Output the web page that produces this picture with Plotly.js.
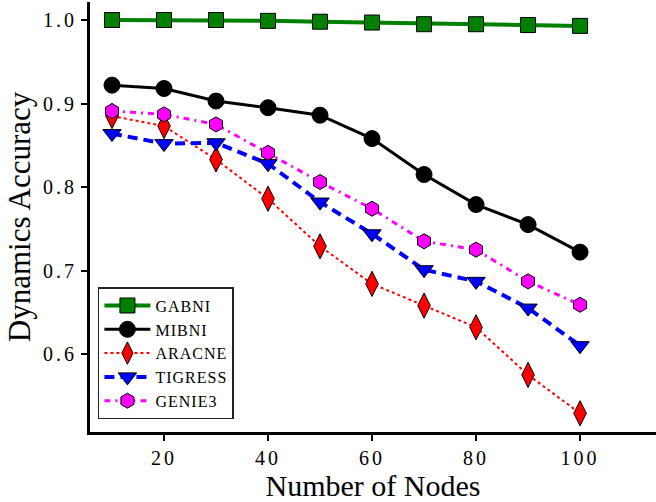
<!DOCTYPE html>
<html>
<head>
<meta charset="utf-8">
<script src="https://cdn.plot.ly/plotly-3.0.1.min.js"></script>
<style>
  html, body { margin: 0; padding: 0; background: #fff; }
  #chart { width: 656px; height: 502px; }
  .xtick text, .ytick text { letter-spacing: 3px; font-family: 'Liberation Serif', serif !important; }
  .legendtext { font-family: 'Liberation Serif', serif !important; letter-spacing: 1px; }
</style>
</head>
<body>
<div id="chart"></div>
<script>
// Network size (number of nodes) on the x axis
const nodes = [10, 20, 30, 40, 50, 60, 70, 80, 90, 100];

// Dynamics accuracy of each inference method
const gabni   = [1.000, 1.000, 1.000, 0.999, 0.998, 0.997, 0.995, 0.995, 0.994, 0.993];
const mibni   = [0.922, 0.918, 0.903, 0.895, 0.886, 0.858, 0.815, 0.779, 0.755, 0.722];
const aracne  = [0.885, 0.873, 0.833, 0.786, 0.729, 0.684, 0.658, 0.632, 0.575, 0.529];
const tigress = [0.864, 0.852, 0.853, 0.828, 0.782, 0.744, 0.701, 0.687, 0.655, 0.610];
const genie3  = [0.891, 0.887, 0.875, 0.841, 0.806, 0.774, 0.735, 0.725, 0.687, 0.659];

const xTicks = [20, 40, 60, 80, 100];
const yTicks = [0.6, 0.7, 0.8, 0.9, 1.0];
const yTickText = ['0.6', '0.7', '0.8', '0.9', '1.0'];

const serif = 'Liberation Serif';

function series(name, y, color, width, dash, symbol, size) {
  return {
    x: nodes, y: y, name: name, type: 'scatter', mode: 'lines+markers',
    line: { color: color, width: width, dash: dash },
    marker: { symbol: symbol, size: size, color: color, line: { color: '#000', width: 1 } }
  };
}

const traces = [
  series('GABNI',   gabni,   '#008000', 4, 'solid',           'square',        15),
  series('MIBNI',   mibni,   '#000000', 3, 'solid',           'circle',        16),
  series('ARACNE',  aracne,  '#ff0000', 2, 'dot',             'diamond-tall',  18),
  series('TIGRESS', tigress, '#0000ff', 4, '10px,6px',        'triangle-down', 16),
  series('GENIE3',  genie3,  '#ff00ff', 3, '6px,5px,2px,5px', 'hexagon',       15)
];

const layout = {
  width: 656, height: 502,
  margin: { l: 90, r: 0, t: 2, b: 70 },
  paper_bgcolor: '#fff', plot_bgcolor: '#fff',
  font: { family: serif, color: '#000', size: 20 },
  showlegend: true,
  legend: {
    x: 0.014, y: 0.337, xanchor: 'left', yanchor: 'top',
    bgcolor: '#fff', bordercolor: '#222', borderwidth: 1.5,
    font: { family: serif, size: 16, color: '#000' },
    itemwidth: 46
  },
  xaxis: {
    range: [5.77, 114.6],
    tickvals: xTicks, ticktext: xTicks.map(String),
    ticks: 'outside', ticklen: 6, tickwidth: 2, tickcolor: '#000',
    showline: true, linecolor: '#000', linewidth: 3,
    showgrid: false, zeroline: false,
    tickfont: { family: serif, size: 20, color: '#000' },
    title: { text: 'Number of Nodes', font: { family: serif, size: 30, color: '#000' }, standoff: 1 }
  },
  yaxis: {
    range: [0.5066, 1.0216],
    tickvals: yTicks, ticktext: yTickText,
    ticks: 'outside', ticklen: 6, tickwidth: 2, tickcolor: '#000',
    showline: true, linecolor: '#000', linewidth: 3,
    showgrid: false, zeroline: false,
    tickfont: { family: serif, size: 20, color: '#000' },
    title: { text: 'Dynamics Accuracy', font: { family: serif, size: 31, color: '#000' }, standoff: 4 }
  }
};

Plotly.newPlot('chart', traces, layout, { staticPlot: true });
</script>
</body>
</html>
